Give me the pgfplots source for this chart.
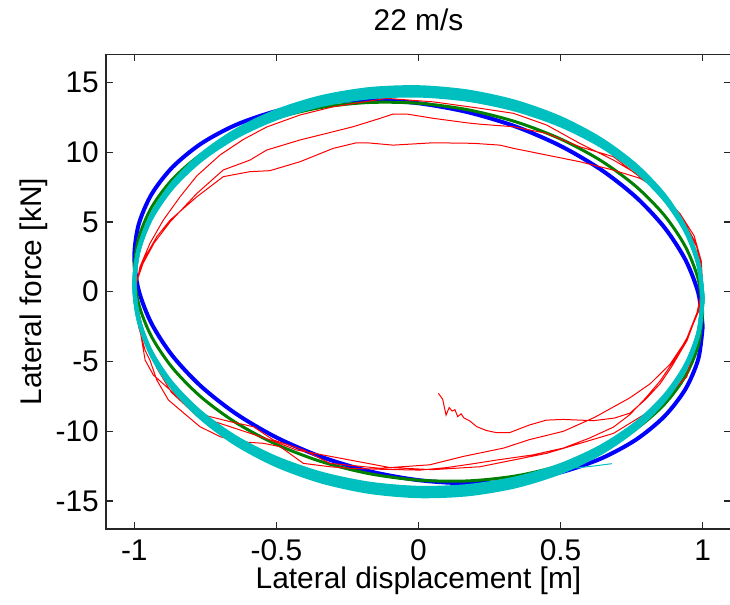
\documentclass[border=0pt]{standalone}
\usepackage{fontspec}
\setmainfont{Liberation Sans}
\usepackage{pgfplots}
\usepackage{pgfplotstable}
\pgfplotsset{compat=1.18}
\definecolor{mblue}{rgb}{0,0,1}
\definecolor{mgreen}{rgb}{0,0.5,0}
\definecolor{mred}{rgb}{1,0,0}
\definecolor{mcyan}{rgb}{0,0.75,0.75}
\pgfplotstableread{
x blue green ca cb cc cd
1 -2.5 -1.5 -0.5 -0.5 -0.5 -0.5
0.9848 -0.118 0.867 1.947 1.982 2.017 2.051
0.9397 2.268 3.207 4.335 4.404 4.472 4.540
0.8660 4.585 5.451 6.592 6.692 6.792 6.892
0.7660 6.763 7.529 8.648 8.777 8.906 9.034
0.6428 8.734 9.377 10.441 10.595 10.748 10.901
0.5 10.441 10.941 11.917 12.091 12.264 12.437
0.3420 11.831 12.173 13.032 13.220 13.408 13.596
0.1736 12.861 13.035 13.749 13.946 14.143 14.340
0 13.5 13.5 14.05 14.25 14.45 14.65
-0.1736 13.729 13.555 13.923 14.120 14.317 14.514
-0.3420 13.541 13.199 13.374 13.562 13.750 13.938
-0.5 12.941 12.441 12.417 12.591 12.764 12.937
-0.6428 11.948 11.305 11.083 11.237 11.390 11.543
-0.7660 10.593 9.827 9.414 9.543 9.672 9.800
-0.8660 8.915 8.049 7.458 7.558 7.658 7.758
-0.9397 6.966 6.027 5.275 5.344 5.412 5.480
-0.9848 4.806 3.821 2.931 2.966 3.001 3.035
-1 2.5 1.5 0.5 0.5 0.5 0.5
-0.9848 0.118 -0.867 -1.947 -1.982 -2.017 -2.051
-0.9397 -2.268 -3.207 -4.335 -4.404 -4.472 -4.540
-0.8660 -4.585 -5.451 -6.592 -6.692 -6.792 -6.892
-0.7660 -6.763 -7.529 -8.648 -8.777 -8.906 -9.034
-0.6428 -8.734 -9.377 -10.441 -10.595 -10.748 -10.901
-0.5 -10.441 -10.941 -11.917 -12.091 -12.264 -12.437
-0.3420 -11.831 -12.173 -13.032 -13.220 -13.408 -13.596
-0.1736 -12.861 -13.035 -13.749 -13.946 -14.143 -14.340
0 -13.5 -13.5 -14.05 -14.25 -14.45 -14.65
0.1736 -13.729 -13.555 -13.923 -14.120 -14.317 -14.514
0.3420 -13.541 -13.199 -13.374 -13.562 -13.750 -13.938
0.5 -12.941 -12.441 -12.417 -12.591 -12.764 -12.937
0.6428 -11.948 -11.305 -11.083 -11.237 -11.390 -11.543
0.7660 -10.593 -9.827 -9.414 -9.543 -9.672 -9.800
0.8660 -8.915 -8.049 -7.458 -7.558 -7.658 -7.758
0.9397 -6.966 -6.027 -5.275 -5.344 -5.412 -5.480
0.9848 -4.806 -3.821 -2.931 -2.966 -3.001 -3.035
1 -2.5 -1.5 -0.5 -0.5 -0.5 -0.5
}\loops
\begin{document}
\begin{tikzpicture}
\begin{axis}[name=ax, scale only axis, width=312.6bp, height=237.3bp,
  xmin=-1.1, xmax=1.1, ymin=-17, ymax=17,
  xtick={-1,-0.5,0,0.5,1}, xticklabels={-1,-0.5,0,0.5,1},
  ytick={-15,-10,-5,0,5,10,15}, yticklabels={-15,-10,-5,0,5,10,15},
  tick align=inside, major tick length=3.5bp,
  xtick pos=both, ytick pos=both,
  xticklabel pos=lower, yticklabel pos=left,
  axis line style={black!85, line width=0.75bp},
  tick style={black!85, line width=0.6bp},
  ticklabel style={font=\fontsize{15}{18}\selectfont},
  xticklabel style={yshift=-2bp},
  label style={font=\fontsize{15}{18}\selectfont},
  title={22 m/s},
  title style={at={(axis description cs:0.5,1.048)}, anchor=center, font=\fontsize{15}{18}\selectfont},
  xlabel={Lateral displacement [m]},
  xlabel style={at={(axis description cs:0.5,-0.1095)}, anchor=center},
  ylabel={Lateral force [kN]},
  ylabel style={at={(axis description cs:-0.115,0.5)}, anchor=center},
]
\addplot[mblue, line width=2bp, smooth] table[x=x, y=blue] {\loops};
\addplot[mgreen, line width=1.5bp, smooth] table[x=x, y=green] {\loops};
\addplot[mred, line width=0.5bp] coordinates {
(0.070,-7.28) (0.085,-7.70) (0.097,-8.84) (0.108,-8.30) (0.118,-8.55) (0.128,-8.45)
(0.138,-8.95) (0.150,-8.75) (0.160,-9.05) (0.180,-9.25) (0.205,-9.67) (0.240,-9.95)
(0.275,-10.10) (0.320,-10.10) (0.390,-9.55) (0.450,-9.20) (0.510,-9.15) (0.615,-9.24)
(0.690,-9.05) (0.744,-8.70) (0.800,-7.70) (0.850,-6.60) (0.890,-5.40) (0.945,-3.50)
(0.985,-1.30) (1.000,0.30)
(0.995,2.00) (0.975,3.50) (0.935,5.00) (0.880,6.60) (0.830,7.50) (0.780,8.12)
(0.686,8.71) (0.568,9.31) (0.451,9.79) (0.334,10.27) (0.287,10.50) (0.193,10.63)
(0.052,10.67) (-0.089,10.50) (-0.182,10.67) (-0.218,10.67) (-0.300,10.27) (-0.417,9.31)
(-0.523,8.67) (-0.593,8.60) (-0.687,8.24) (-0.780,6.80) (-0.874,5.13) (-0.921,3.94)
(-0.968,2.27) (-0.992,0.83) (-0.998,-0.50)
(-0.985,-2.50) (-0.962,-4.20) (-0.945,-4.90) (-0.921,-6.33) (-0.880,-7.76) (-0.839,-8.47)
(-0.769,-9.67) (-0.698,-10.39) (-0.628,-10.75) (-0.546,-10.86) (-0.487,-11.10) (-0.405,-12.30)
(-0.311,-12.54) (-0.241,-12.65) (-0.135,-12.72) (0.005,-12.78) (0.100,-12.60) (0.200,-12.30)
(0.275,-12.06) (0.400,-11.70) (0.510,-11.20) (0.600,-10.50) (0.686,-9.70) (0.744,-8.80)
(0.800,-7.60) (0.850,-6.40) (0.900,-4.90) (0.945,-3.30) (0.980,-1.50) (1.000,0.40)
(0.995,2.20) (0.970,4.00) (0.920,5.60) (0.850,7.10) (0.780,8.20) (0.686,9.67)
(0.568,10.38) (0.451,11.34) (0.334,11.82) (0.216,12.00) (0.170,12.10) (0.052,12.42)
(-0.042,12.73) (-0.089,12.73) (-0.135,12.42) (-0.230,11.82) (-0.300,11.46) (-0.417,10.87)
(-0.534,10.15) (-0.593,9.43) (-0.687,8.72) (-0.780,7.04) (-0.874,5.00) (-0.930,3.50)
(-0.970,2.00) (-0.995,0.50)
(-0.990,-1.50) (-0.962,-4.90) (-0.933,-5.97) (-0.874,-7.04) (-0.780,-8.71) (-0.734,-8.95)
(-0.663,-9.31) (-0.581,-9.67) (-0.511,-10.62) (-0.405,-11.34) (-0.311,-12.30) (-0.135,-12.65)
(0.040,-12.40) (0.158,-11.80) (0.300,-11.20) (0.390,-10.60) (0.510,-10.00) (0.620,-9.00)
(0.744,-7.60) (0.815,-6.60) (0.885,-5.20) (0.944,-3.40) (0.990,-1.20) (1.000,0.50)
(0.996,1.30) (0.979,3.22) (0.932,4.90) (0.850,7.04) (0.780,8.30) (0.686,9.43)
(0.568,10.62) (0.451,11.94) (0.334,12.78) (0.216,13.14) (0.052,13.60) (-0.112,13.85)
(-0.300,13.25) (-0.417,12.66) (-0.534,11.80) (-0.617,10.90) (-0.698,9.80) (-0.780,8.30)
(-0.839,6.80) (-0.898,5.13) (-0.945,3.46) (-0.980,1.79) (-0.995,0.30)
(-0.990,-1.00) (-0.960,-3.50) (-0.920,-5.50) (-0.870,-7.20) (-0.780,-8.90) (-0.663,-9.67)
(-0.522,-10.62) (-0.429,-11.34) (-0.241,-12.06) (-0.100,-12.60) (0.050,-12.75) (0.216,-12.54)
(0.451,-11.58) (0.686,-10.15) (0.850,-8.10) (0.908,-6.80) (0.944,-6.10) (0.990,-2.30)
};
\addplot[mcyan, line width=2bp, smooth] table[x=x, y=ca] {\loops};
\addplot[mcyan, line width=2bp, smooth] table[x=x, y=cb] {\loops};
\addplot[mcyan, line width=2bp, smooth] table[x=x, y=cc] {\loops};
\addplot[mcyan, line width=2bp, smooth] table[x=x, y=cd] {\loops};
\addplot[mcyan, line width=0.5bp] coordinates {(0.50,-12.50) (0.56,-12.62) (0.62,-12.48) (0.68,-12.32)};
\end{axis}
\pgfresetboundingbox
\path ([xshift=-52.95bp,yshift=-38bp]ax.south west) rectangle ([xshift=-0.55bp,yshift=27.2bp]ax.north east);
\end{tikzpicture}
\end{document}
